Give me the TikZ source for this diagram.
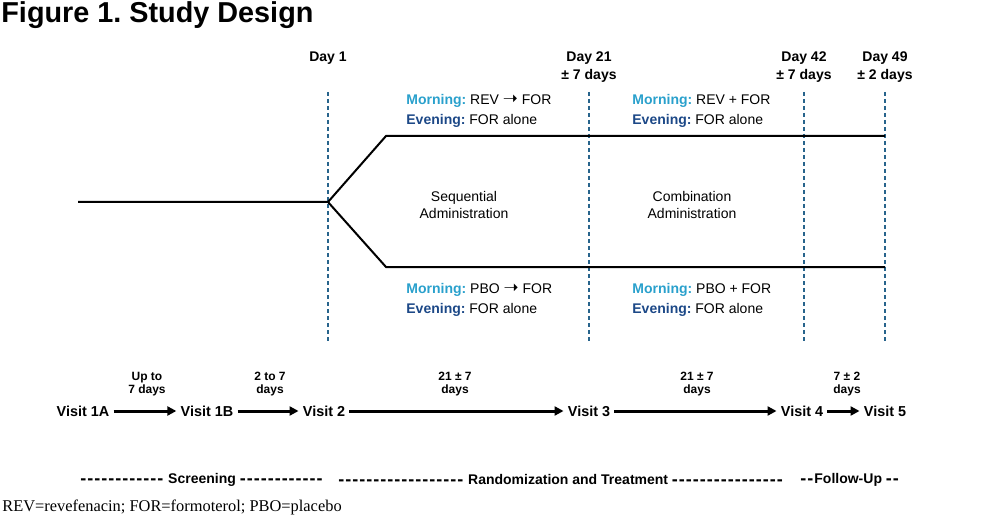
\documentclass[tikz,border=0pt]{standalone}
\usepackage{fontspec}
\setmainfont{Liberation Sans}
\newfontfamily\notefont{Liberation Serif}
\newfontfamily\symfont{DejaVu Sans}
\usetikzlibrary{arrows.meta,positioning}

\definecolor{daylinecol}{RGB}{40,100,140}
\definecolor{morncol}{RGB}{41,160,204}
\definecolor{evecol}{RGB}{28,72,135}
\newcommand\mrn{{\color{morncol}\bfseries Morning:}}
\newcommand\eve{{\color{evecol}\bfseries Evening:}}
\newcommand\thento{{\symfont\fontsize{9}{10}\selectfont ➝}}
\newcommand\dashrun[1]{{\fontsize{9}{9}\selectfont\foreach\i in {1,...,#1}{\raisebox{-0.5pt}{-}\kern0.5pt}}}
\frenchspacing

\begin{document}
\begin{tikzpicture}[x=0.5pt,y=-0.5pt,>={Triangle[length=4.5pt,width=4.5pt]}]
                \useasboundingbox (0,0) rectangle (1000,529);
                \tikzstyle{every node}=[inner sep=0pt]
                \tikzstyle{daytxt}=[font=\fontsize{7}{9}\selectfont\bfseries,align=center,anchor=north]
                \tikzstyle{dayline}=[daylinecol,line width=0.9pt,dash pattern=on 2pt off 1.5pt]
                \tikzstyle{arm}=[line width=1pt]
                \tikzstyle{regimen}=[font=\fontsize{7}{10}\selectfont,align=left,anchor=west]
                \tikzstyle{admin}=[font=\fontsize{7}{8.5}\selectfont,align=center]
                \tikzstyle{visit}=[font=\fontsize{7.2}{9}\selectfont\bfseries,inner sep=2pt]
                \tikzstyle{dur}=[font=\fontsize{6}{6.5}\selectfont\bfseries,align=center]
                \tikzstyle{phase}=[font=\fontsize{7}{9}\selectfont\bfseries,anchor=west]
                \tikzstyle{visitarrow}=[->,line width=1.5pt]
                % title
                \node[anchor=base west,font=\fontsize{14.4}{16}\selectfont\bfseries] (title) at (1,23) {Figure 1. Study Design};
                % days
                \node[daytxt] (day1) at (328,51) {Day 1};
                \node[daytxt] (day21) at (589,51) {Day 21\\± 7 days};
                \node[daytxt] (day42) at (804,51) {Day 42\\± 7 days};
                \node[daytxt] (day49) at (885,51) {Day 49\\± 2 days};
                \foreach \x in {328,589,804,885}
                    {
                        \draw[dayline] (\x,92) -- (\x,342);
                    }
                % treatment arms
                \coordinate (start) at (78,202);
                \coordinate (fork) at (328,202);
                \coordinate (upknee) at (386,136);
                \coordinate (upend) at (885,136);
                \coordinate (loknee) at (386,267);
                \coordinate (loend) at (885,267);
                \draw[arm] (start) -- (fork) -- (upknee) -- (upend);
                \draw[arm] (fork) -- (loknee) -- (loend);
                \node[regimen] (sequp) at (406,111) {\mrn{} REV \thento{} FOR\\\eve{} FOR alone};
                \node[regimen] (combup) at (632,111) {\mrn{} REV + FOR\\\eve{} FOR alone};
                \node[regimen] (seqlo) at (406,300) {\mrn{} PBO \thento{} FOR\\\eve{} FOR alone};
                \node[regimen] (comblo) at (632,300) {\mrn{} PBO + FOR\\\eve{} FOR alone};
                \node[admin] (seq) at (464,205) {Sequential\\Administration};
                \node[admin] (comb) at (692,205) {Combination\\Administration};
                % visits
                \node[visit] (v1a) at (83,411) {Visit 1A};
                \node[visit] (v1b) at (207,411) {Visit 1B};
                \node[visit] (v2) at (324,411) {Visit 2};
                \node[visit] (v3) at (589,411) {Visit 3};
                \node[visit] (v4) at (802,411) {Visit 4};
                \node[visit] (v5) at (885,411) {Visit 5};
                \draw[visitarrow] (v1a) -- (v1b);
                \draw[visitarrow] (v1b) -- (v2);
                \draw[visitarrow] (v2) -- (v3);
                \draw[visitarrow] (v3) -- (v4);
                \draw[visitarrow] (v4) -- (v5);
                \node[dur] (dur1) at (147,384) {Up to\\7 days};
                \node[dur] (dur2) at (270,384) {2 to 7\\days};
                \node[dur] (dur3) at (455,384) {21 ± 7\\days};
                \node[dur] (dur4) at (697,384) {21 ± 7\\days};
                \node[dur] (dur5) at (847,384) {7 ± 2\\days};
                % phases
                \node[phase] (screen) at (80,480) {\dashrun{12} Screening \dashrun{12}};
                \node[phase] (rand) at (338,480) {\dashrun{18} Randomization and Treatment \dashrun{16}};
                \node[phase] (follow) at (800,480) {\dashrun{2}Follow-Up \dashrun{2}};
                \node[anchor=base west,font=\notefont\fontsize{8.2}{10}\selectfont] (note) at (2,511) {REV=revefenacin; FOR=formoterol; PBO=placebo};
            \end{tikzpicture}
\end{document}
